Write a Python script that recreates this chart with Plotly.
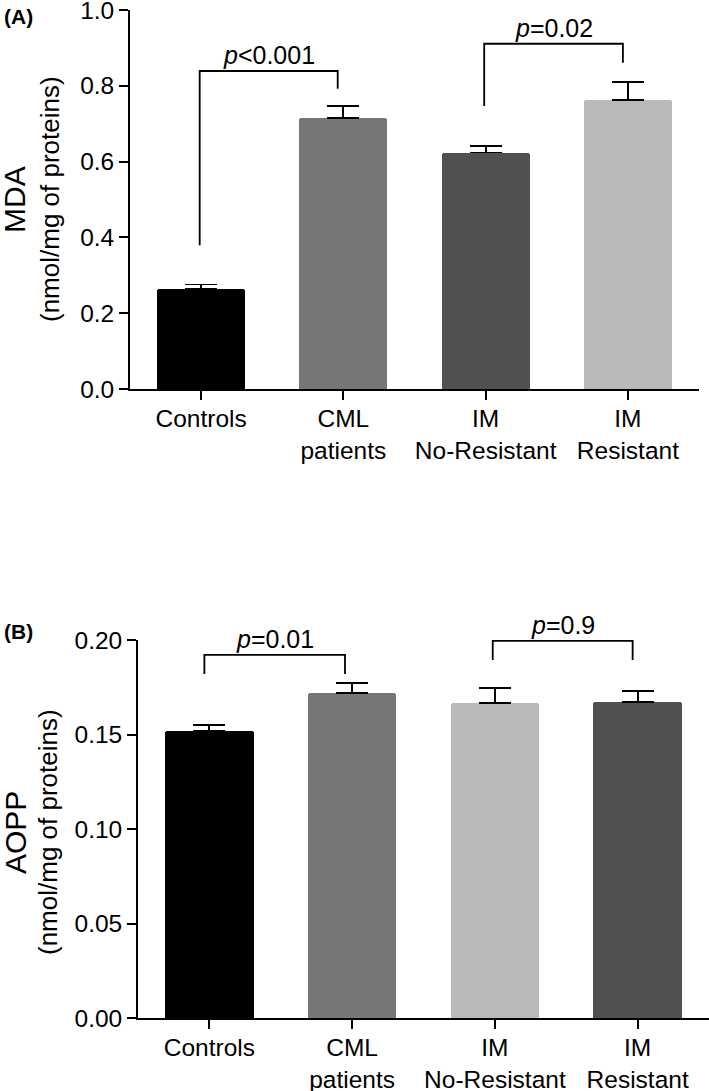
import plotly.graph_objects as go

# ---------------- data ----------------
categories = ["Controls", "CML<br>patients", "IM<br>No-Resistant", "IM<br>Resistant"]
x_pos = [0, 1, 2, 3]

mda_values = [0.263, 0.716, 0.624, 0.763]
mda_errors = [0.013, 0.031, 0.018, 0.047]
mda_colors = ["#000000", "#767676", "#505050", "#b9b9b9"]

aopp_values = [0.152, 0.1718, 0.1665, 0.1674]
aopp_errors = [0.003, 0.0053, 0.0083, 0.0056]
aopp_colors = ["#000000", "#767676", "#b9b9b9", "#505050"]

mda_ticks = [0.0, 0.2, 0.4, 0.6, 0.8, 1.0]
aopp_ticks = [0.00, 0.05, 0.10, 0.15, 0.20]

# brackets: (x_left, x_right, y_top, y_left_bottom, y_right_bottom, label)
mda_brackets = [
    (-0.01, 0.96, 0.839, 0.379, 0.792, "<i>p</i>&lt;0.001"),
    (1.99, 2.965, 0.911, 0.747, 0.861, "<i>p</i>=0.02"),
]
aopp_brackets = [
    (-0.035, 0.95, 0.1921, 0.182, 0.182, "<i>p</i>=0.01"),
    (1.985, 2.965, 0.1995, 0.1894, 0.1894, "<i>p</i>=0.9"),
]

FONT = "Liberation Sans, Arial, sans-serif"
W, H = 709, 1091
LW = 1.8

fig = go.Figure()

fig.add_trace(go.Bar(
    x=x_pos, y=mda_values, width=0.62,
    marker=dict(color=mda_colors, line=dict(width=0), cornerradius=3),
    error_y=dict(type="data", array=mda_errors, arrayminus=[0] * 4, symmetric=False,
                 color="black", thickness=LW, width=16),
    xaxis="x", yaxis="y", showlegend=False,
))
fig.add_trace(go.Bar(
    x=x_pos, y=aopp_values, width=0.62,
    marker=dict(color=aopp_colors, line=dict(width=0), cornerradius=3),
    error_y=dict(type="data", array=aopp_errors, arrayminus=[0] * 4, symmetric=False,
                 color="black", thickness=LW, width=16),
    xaxis="x2", yaxis="y2", showlegend=False,
))

annotations = []
for brackets, xr, yr in [(mda_brackets, "x", "y"), (aopp_brackets, "x2", "y2")]:
    for xl, xrr, yt, ylb, yrb, label in brackets:
        fig.add_trace(go.Scatter(
            x=[xl, xl, xrr, xrr], y=[ylb, yt, yt, yrb], mode="lines",
            line=dict(color="black", width=LW), xaxis=xr, yaxis=yr,
            showlegend=False, hoverinfo="skip",
        ))
        annotations.append(dict(
            x=(xl + xrr) / 2, y=yt, xref=xr, yref=yr, text=label, showarrow=False,
            xanchor="center", yanchor="bottom", font=dict(size=25, color="black", family=FONT),
        ))

axis_common = dict(
    showline=True, linecolor="black", linewidth=LW, ticks="outside", ticklen=9,
    tickwidth=LW, tickcolor="black", showgrid=False, zeroline=False, automargin=False,
    ticklabeloverflow="allow",
    tickfont=dict(size=24.5, color="black", family=FONT),
)
x_extra = dict(ticklabelstandoff=-2)

fig.update_layout(
    width=W, height=H, margin=dict(l=0, r=0, t=0, b=0, autoexpand=False),
    paper_bgcolor="white", plot_bgcolor="white", bargap=0,
    xaxis=dict(domain=[130 / W, 699 / W], range=[-0.5, 3.5], tickvals=x_pos,
               ticktext=categories, anchor="y", **axis_common, **x_extra),
    yaxis=dict(domain=[1 - 389 / H, 1 - 10 / H], range=[0, 1.0], tickvals=mda_ticks,
               tickformat=".1f", anchor="x", **axis_common),
    xaxis2=dict(domain=[138 / W, 1.0], range=[-0.5, 3.5], tickvals=x_pos,
                ticktext=categories, anchor="y2", **axis_common, **x_extra),
    yaxis2=dict(domain=[1 - 1018 / H, 1 - 640 / H], range=[0, 0.2], tickvals=aopp_ticks,
                tickformat=".2f", anchor="x2", **axis_common),
)

# axis titles and panel labels
annotations += [
    dict(x=15 / W, y=1 - 200 / H, xref="paper", yref="paper", text="MDA", textangle=-90,
         showarrow=False, xanchor="center", yanchor="middle",
         font=dict(size=30, color="black", family=FONT)),
    dict(x=50 / W, y=1 - 199 / H, xref="paper", yref="paper", text="(nmol/mg of proteins)",
         textangle=-90, showarrow=False, xanchor="center", yanchor="middle",
         font=dict(size=26, color="black", family=FONT)),
    dict(x=15 / W, y=1 - 833 / H, xref="paper", yref="paper", text="AOPP", textangle=-90,
         showarrow=False, xanchor="center", yanchor="middle",
         font=dict(size=30, color="black", family=FONT)),
    dict(x=48 / W, y=1 - 832 / H, xref="paper", yref="paper", text="(nmol/mg of proteins)",
         textangle=-90, showarrow=False, xanchor="center", yanchor="middle",
         font=dict(size=26, color="black", family=FONT)),
    dict(x=2 / W, y=1 - 16 / H, xref="paper", yref="paper", text="<b>(A)</b>",
         showarrow=False, xanchor="left", yanchor="middle",
         font=dict(size=21, color="black", family=FONT)),
    dict(x=2 / W, y=1 - 631 / H, xref="paper", yref="paper", text="<b>(B)</b>",
         showarrow=False, xanchor="left", yanchor="middle",
         font=dict(size=21, color="black", family=FONT)),
]
fig.update_layout(annotations=annotations)

fig.write_html(
    "out.html",
    config={"displayModeBar": False},
    post_script="document.body.style.margin='0';document.body.style.overflow='hidden';",
)
